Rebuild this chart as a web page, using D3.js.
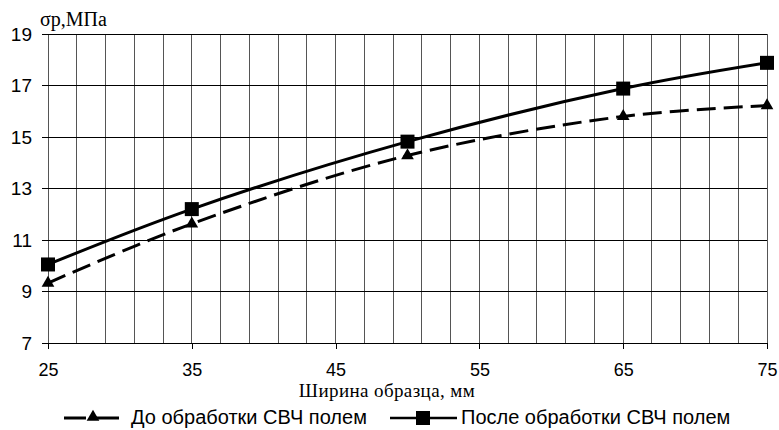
<!DOCTYPE html>
<html>
<head>
<meta charset="utf-8">
<script src="https://cdn.jsdelivr.net/npm/d3@7"></script>
<style>
  body { margin: 0; background: #fff; }
  svg { display: block; }
</style>
</head>
<body>
<div id="chart"></div>
<script>
const width = 779;
const height = 430;

// Data ===============================================================
const widths = [25, 35, 50, 65, 75];
const before = [9.33, 11.63, 14.28, 15.8, 16.22];
const after = [10.05, 12.2, 14.82, 16.88, 17.88];
const xTicks = [25, 35, 45, 55, 65, 75];
const yTicks = [7, 9, 11, 13, 15, 17, 19];
const seriesNames = ['До обработки СВЧ полем', 'После обработки СВЧ полем'];
// ====================================================================

const margin = { top: 34, right: 12, bottom: 87, left: 48 };
const sans = 'Liberation Sans, Arial, sans-serif';
const serif = 'Liberation Serif, Times New Roman, serif';

const svg = d3.select('#chart').append('svg').attr('width', width).attr('height', height);

const x = d3.scaleLinear().domain([25, 75]).range([margin.left, width - margin.right]);
const y = d3.scaleLinear().domain([7, 19]).range([height - margin.bottom, margin.top]);

// Grid ===============================================================
const vGrid = d3.range(25, 76, 2);
svg.append('g')
	.selectAll('line')
	.data(vGrid)
	.join('line')
	.attr('x1', (d) => x(d))
	.attr('x2', (d) => x(d))
	.attr('y1', y(19))
	.attr('y2', y(7))
	.attr('stroke', '#555')
	.attr('stroke-width', 1)
	.attr('shape-rendering', 'crispEdges');

svg.append('g')
	.selectAll('line')
	.data(yTicks)
	.join('line')
	.attr('x1', x(25) - 6)
	.attr('x2', x(75))
	.attr('y1', (d) => y(d))
	.attr('y2', (d) => y(d))
	.attr('stroke', '#000')
	.attr('stroke-width', 1)
	.attr('shape-rendering', 'crispEdges');

// Axes ===============================================================
const xAxis = d3.axisBottom(x).tickValues(xTicks).tickSize(6).tickPadding(14);
const gx = svg.append('g').attr('transform', `translate(0, ${y(7)})`).call(xAxis);
gx.select('.domain').remove();
gx.selectAll('line').attr('stroke', '#000').attr('shape-rendering', 'crispEdges');
gx.selectAll('text').attr('font-family', sans).attr('font-size', 18).attr('fill', '#000');

const yAxis = d3.axisLeft(y).tickValues(yTicks).tickSize(0).tickPadding(16);
const gy = svg.append('g').attr('transform', `translate(${x(25)}, 0)`).call(yAxis);
gy.select('.domain').remove();
gy.selectAll('text').attr('font-family', sans).attr('font-size', 19).attr('fill', '#000');

// Axis titles
svg.append('text')
	.attr('x', 40)
	.attr('y', 26)
	.attr('font-family', serif)
	.attr('font-size', 20)
	.text('σр,МПа');

svg.append('text')
	.attr('x', 387)
	.attr('y', 397)
	.attr('text-anchor', 'middle')
	.attr('font-family', serif)
	.attr('font-size', 19)
	.attr('letter-spacing', 0.4)
	.text('Ширина образца, мм');

// Lines ==============================================================
const line = d3
	.line()
	.x((d, i) => x(widths[i]))
	.y((d) => y(d))
	.curve(d3.curveCatmullRom.alpha(0.5));

svg.append('path')
	.datum(before)
	.attr('d', line)
	.attr('fill', 'none')
	.attr('stroke', '#000')
	.attr('stroke-width', 3)
	.attr('stroke-dasharray', '19,8');

svg.append('path')
	.datum(after)
	.attr('d', line)
	.attr('fill', 'none')
	.attr('stroke', '#000')
	.attr('stroke-width', 3);

// Markers
const tri = d3.symbol().type(d3.symbolTriangle).size(70);
svg.append('g')
	.selectAll('path')
	.data(before)
	.join('path')
	.attr('d', tri)
	.attr('transform', (d, i) => `translate(${x(widths[i])}, ${y(d)})`)
	.attr('fill', '#000');

const sq = 14;
svg.append('g')
	.selectAll('rect')
	.data(after)
	.join('rect')
	.attr('x', (d, i) => x(widths[i]) - sq / 2)
	.attr('y', (d) => y(d) - sq / 2)
	.attr('width', sq)
	.attr('height', sq)
	.attr('fill', '#000');

// Legend =============================================================
const legend = svg.append('g').attr('font-family', sans).attr('font-size', 20);
const ly = 418;

legend.append('line')
	.attr('x1', 64).attr('x2', 119).attr('y1', ly).attr('y2', ly)
	.attr('stroke', '#000').attr('stroke-width', 3).attr('stroke-dasharray', '22,6,30');
legend.append('path').attr('d', tri).attr('transform', `translate(93, ${ly - 1})`).attr('fill', '#000');
legend.append('text').attr('x', 131).attr('y', ly + 6).text(seriesNames[0]);

legend.append('line')
	.attr('x1', 390).attr('x2', 457).attr('y1', ly).attr('y2', ly)
	.attr('stroke', '#000').attr('stroke-width', 2.5);
legend.append('rect').attr('x', 416).attr('y', ly - 7).attr('width', 14).attr('height', 14).attr('fill', '#000');
legend.append('text').attr('x', 461).attr('y', ly + 6).text(seriesNames[1]);
</script>
</body>
</html>
